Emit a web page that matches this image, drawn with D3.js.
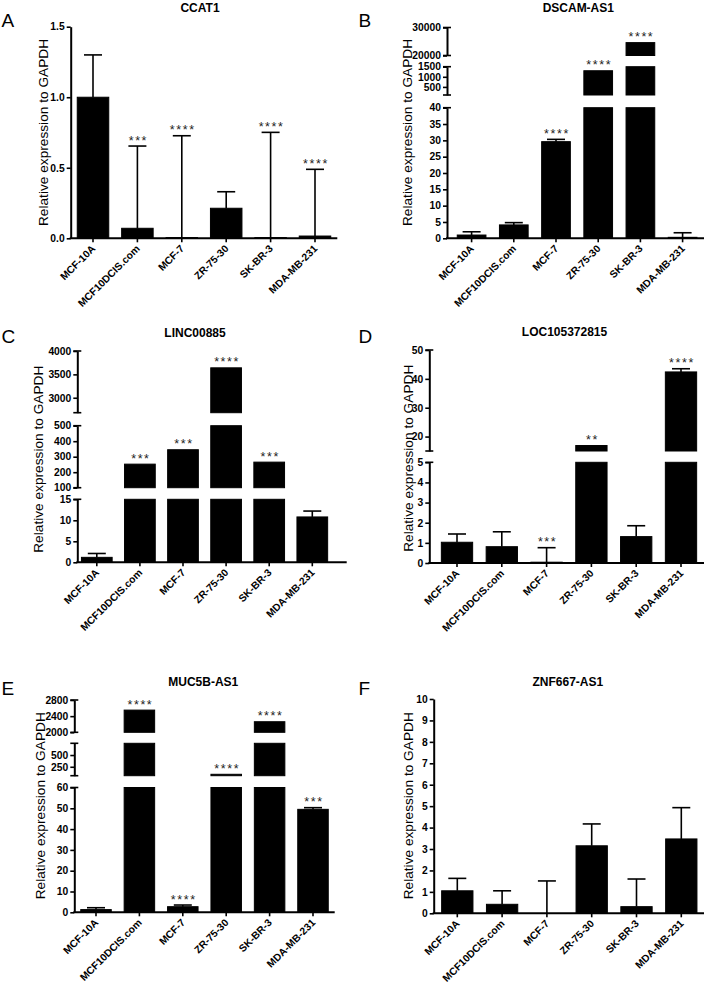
<!DOCTYPE html>
<html><head><meta charset="utf-8">
<script src="https://cdn.jsdelivr.net/npm/d3@7"></script>
<style>
body{margin:0;background:#fff}
svg{display:block}
text{font-family:"Liberation Sans",Arial,sans-serif}
</style>
</head><body>
<svg id="c" width="705" height="985"></svg>
<script>
// ---------------- DATA ----------------
const categories = ["MCF-10A","MCF10DCIS.com","MCF-7","ZR-75-30","SK-BR-3","MDA-MB-231"];
const panelLetters = ["A","B","C","D","E","F"];
const geneTitles = ["CCAT1","DSCAM-AS1","LINC00885","LOC105372815","MUC5B-AS1","ZNF667-AS1"];
const yAxisLabel = "Relative expression to GAPDH";

// A: CCAT1
const ccat1Values  = [1.00, 0.071, 0.005, 0.213, 0.005, 0.016];
const ccat1ErrTop  = [1.30, 0.654, 0.727, 0.33, 0.751, 0.489];
const ccat1Stars   = ["", "***", "****", "", "****", "****"];
const ccat1Segments = [[0, 1.5]];
const ccat1Ticks    = [[0, 0.5, 1.0, 1.5]];

// B: DSCAM-AS1
const dscamValues  = [1.0, 4.1, 29.6, 1300, 24600, 0.3];
const dscamErrTop  = [2.0, 4.8, 30.3, null, null, 1.7];
const dscamStars   = ["", "", "****", "****", "****", ""];
const dscamSegments = [[0, 40], [100, 1500], [20000, 30000]];
const dscamTicks    = [[0,5,10,15,20,25,30,35,40], [500,1000,1500], [20000,30000]];

// C: LINC00885
const lincValues  = [1.18, 252, 345, 3640, 265, 10.8];
const lincErrTop  = [2.1, null, null, null, null, 12.2];
const lincStars   = ["", "***", "***", "****", "***", ""];
const lincSegments = [[0, 15], [100, 500], [2680, 4000]];
const lincTicks    = [[0,5,10,15], [100,200,300,400,500], [3000,3500,4000]];

// D: LOC105372815
const locValues  = [1.03, 0.81, 0.04, 16.9, 1.31, 42.4];
const locErrTop  = [1.44, 1.55, 0.76, null, 1.85, 43.5];
const locStars   = ["", "", "***", "**", "", "****"];
const locSegments = [[0, 5], [15, 50]];
const locTicks    = [[0,1,2,3,4,5], [20,30,40,50]];

// E: MUC5B-AS1
const mucValues  = [1.3, 2550, 2.7, 90, 2262, 49.5];
const mucErrTop  = [2.2, null, 3.5, null, null, 50.3];
const mucStars   = ["", "****", "****", "****", "****", "***"];
const mucSegments = [[0, 60], [60, 750], [2000, 2800]];
const mucTicks    = [[0,10,20,30,40,50,60], [250,500], [2000,2400,2800]];

// F: ZNF667-AS1
const znfValues  = [1.05, 0.42, 0.0, 3.15, 0.31, 3.47];
const znfErrTop  = [1.63, 1.05, 1.51, 4.17, 1.60, 4.93];
const znfStars   = ["", "", "", "", "", ""];
const znfSegments = [[0, 10]];
const znfTicks    = [[0,1,2,3,4,5,6,7,8,9,10]];

const panels = [
  {values: ccat1Values, err: ccat1ErrTop, stars: ccat1Stars, segments: ccat1Segments, ticks: ccat1Ticks, fmt: d3.format(".1f")},
  {values: dscamValues, err: dscamErrTop, stars: dscamStars, segments: dscamSegments, ticks: dscamTicks, fmt: d3.format("d")},
  {values: lincValues,  err: lincErrTop,  stars: lincStars,  segments: lincSegments,  ticks: lincTicks,  fmt: d3.format("d")},
  {values: locValues,   err: locErrTop,   stars: locStars,   segments: locSegments,   ticks: locTicks,   fmt: d3.format("d")},
  {values: mucValues,   err: mucErrTop,   stars: mucStars,   segments: mucSegments,   ticks: mucTicks,   fmt: d3.format("d")},
  {values: znfValues,   err: znfErrTop,   stars: znfStars,   segments: znfSegments,   ticks: znfTicks,   fmt: d3.format("d")}
];

// ---------------- LAYOUT ----------------
const layout = [
  {letter:[1.5,26.7], title:[200,12], ylab:[43.3,132.5], axisX:70.7, first:93, step:44.4, end:337.3, bw:31.5,
   ranges:[[238.3,26.7]]},
  {letter:[358.5,26.7], title:[578.3,12], ylab:[407,132.5], axisX:447, first:471.6, step:42.2, end:704, bw:28.7,
   ranges:[[238.3,107.7],[95,66.7],[55.5,27.5]]},
  {letter:[1.5,343.3], title:[195,336.8], ylab:[38.3,459.2], axisX:77.3, first:96.8, step:43.1, end:346.7, bw:30.7,
   ranges:[[562.3,499.3],[487.7,425.7],[412.7,351]]},
  {letter:[358.5,343.3], title:[564.5,335.6], ylab:[408.7,458.3], axisX:429.3, first:457, step:44.8, end:704, bw:31.3,
   ranges:[[563,462.3],[451,350]]},
  {letter:[1.5,695], title:[203.3,686], ylab:[40,805.8], axisX:74.3, first:96, step:43.4, end:334.7, bw:30.5,
   ranges:[[912.3,787.5],[775.7,743.3],[732.3,700]]},
  {letter:[358.5,695], title:[567.8,686], ylab:[408.7,805.8], axisX:433.7, first:457.3, step:44.8, end:704, bw:31.3,
   ranges:[[913.3,699]]}
];

const svg = d3.select("#c");

panels.forEach((p, i) => {
  const L = layout[i];
  const g = svg.append("g");

  g.append("text").attr("x", L.letter[0]).attr("y", L.letter[1])
    .attr("font-size", 19).attr("fill", "#000").text(panelLetters[i]);
  g.append("text").attr("x", L.title[0]).attr("y", L.title[1])
    .attr("text-anchor", "middle").attr("font-weight", "bold").attr("font-size", 12).text(geneTitles[i]);
  g.append("text").attr("transform", `translate(${L.ylab[0]},${L.ylab[1]}) rotate(-90)`)
    .attr("text-anchor", "middle").attr("dy", "0.35em").attr("font-size", 13.7).text(yAxisLabel);

  const pad = 1 - L.bw / L.step;
  const x = d3.scaleBand().domain(categories)
    .range([L.first - L.step / 2, L.first + 5.5 * L.step])
    .paddingInner(pad).paddingOuter(pad / 2);

  const segs = p.segments.map((dom, k) => ({
    k, dom, ticks: p.ticks[k],
    y: d3.scaleLinear().domain(dom).range(L.ranges[k])
  }));
  const findSeg = v => {
    for (let s = segs.length - 1; s >= 0; s--) if (v >= segs[s].dom[0]) return segs[s];
    return segs[0];
  };

  // bars: pieces in each segment
  const pieces = [];
  p.values.forEach((v, j) => {
    segs.forEach(s => {
      const lo = s.k === 0 ? 0 : s.dom[0];
      if (s.k > 0 && v <= s.dom[0]) return;
      const top = Math.min(v, s.dom[1]);
      pieces.push({c: categories[j], y0: s.y(lo), y1: s.y(top)});
    });
  });
  g.selectAll("rect.bar").data(pieces).join("rect").attr("class", "bar")
    .attr("x", d => x(d.c)).attr("width", x.bandwidth())
    .attr("y", d => d.y1).attr("height", d => Math.max(0, d.y0 - d.y1))
    .attr("fill", "#000").attr("stroke", "#000").attr("stroke-width", 1);

  // error bars
  const errs = p.values.map((v, j) => ({c: categories[j], v, e: p.err[j]})).filter(d => d.e !== null && d.e > d.v);
  errs.forEach(d => {
    const s = findSeg(d.e);
    const cx = x(d.c) + x.bandwidth() / 2;
    const yv = s.y(Math.max(d.v, s.dom[0])), ye = s.y(d.e);
    g.append("line").attr("x1", cx).attr("x2", cx).attr("y1", yv).attr("y2", ye)
      .attr("stroke", "#000").attr("stroke-width", 1.6);
    g.append("line").attr("x1", cx - 9).attr("x2", cx + 9).attr("y1", ye).attr("y2", ye)
      .attr("stroke", "#000").attr("stroke-width", 1.6);
  });

  // stars
  p.values.forEach((v, j) => {
    const st = p.stars[j];
    if (!st) return;
    const ref = Math.max(v, p.err[j] === null ? v : p.err[j]);
    const s = findSeg(ref);
    const yy = s.y(Math.min(ref, s.dom[1])) - 1.5;
    g.append("text").attr("x", x(categories[j]) + x.bandwidth() / 2 + 1)
      .attr("y", yy).attr("text-anchor", "middle").attr("font-size", 12.5)
      .attr("letter-spacing", 1.6).attr("fill", "#222").text(st);
  });

  // y axis segments
  segs.forEach(s => {
    const ax = g.append("g").attr("transform", `translate(${L.axisX},0)`)
      .call(d3.axisLeft(s.y).tickValues(s.ticks).tickSize(4).tickSizeOuter(0).tickPadding(2).tickFormat(p.fmt));
    ax.select(".domain").attr("stroke-width", 2).attr("stroke", "#000");
    ax.selectAll(".tick line").attr("stroke-width", 1.6).attr("stroke", "#000");
    ax.selectAll(".tick text").attr("font-size", 10.3).attr("font-weight", "bold")
      .attr("font-family", '"Liberation Sans",Arial,sans-serif').attr("fill", "#000");
    if (segs.length > 1) {
      const ends = s.k === 0 ? [s.dom[1]] : [s.dom[0], s.dom[1]];
      ends.forEach(v => {
        g.append("line").attr("x1", L.axisX - 4).attr("x2", L.axisX + 4)
          .attr("y1", s.y(v)).attr("y2", s.y(v)).attr("stroke", "#000").attr("stroke-width", 1.6);
      });
    }
  });

  // x axis
  const y0 = segs[0].y(0);
  g.append("line").attr("x1", L.axisX - 1).attr("x2", L.end).attr("y1", y0).attr("y2", y0)
    .attr("stroke", "#000").attr("stroke-width", 2);
  const xa = g.append("g").attr("transform", `translate(0,${y0})`)
    .call(d3.axisBottom(x).tickSize(4).tickSizeOuter(0));
  xa.select(".domain").remove();
  xa.selectAll(".tick line").attr("stroke-width", 1.6).attr("stroke", "#000");
  xa.selectAll(".tick text")
    .attr("font-size", 10.3).attr("font-weight", "bold")
    .attr("font-family", '"Liberation Sans",Arial,sans-serif').attr("fill", "#000")
    .attr("text-anchor", "end").attr("dy", null).attr("y", null)
    .attr("transform", "translate(3,11) rotate(-45)");
});
</script>
</body></html>
